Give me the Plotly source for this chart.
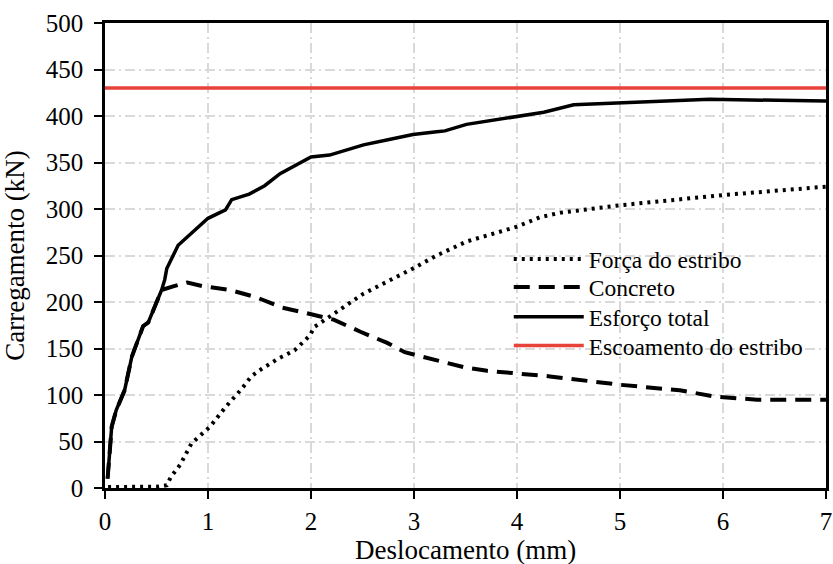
import plotly.graph_objects as go

# Força do estribo (dotted)
forca_x = [0.03, 0.1, 0.2, 0.3, 0.4, 0.52, 0.60, 0.64, 0.73, 0.84, 1.02, 1.17, 1.33, 1.42, 1.52, 1.68, 1.84, 1.99, 2.03,
           2.51, 2.99, 3.22, 3.51, 3.74, 4.0, 4.22, 4.42, 5.0, 6.0, 7.0]
forca_y = [1, 1, 1, 1, 1, 1.5, 3, 12, 25, 48, 66, 87, 107, 120, 128, 139, 148, 164, 173,
           209, 236, 250, 265, 272, 281, 291, 296, 304, 315, 324]

# Concreto (dashed)
concreto_x = [0.025, 0.065, 0.11, 0.19, 0.26, 0.37, 0.42, 0.55, 0.67, 0.80, 0.95, 1.21, 1.47, 1.72, 1.96, 2.22, 2.48,
              2.74, 2.91, 3.06, 3.25, 3.48, 3.71, 4.03, 4.32, 5.0, 5.58, 5.94, 6.33, 7.0]
concreto_y = [10, 66, 84, 105, 141, 174, 178, 213, 217, 221, 217, 213, 205, 194, 188, 181, 168,
              156, 146, 142, 137, 130, 126, 123, 120, 111, 105, 98, 95, 95]

# Esforço total (solid)
total_x = [0.025, 0.065, 0.11, 0.19, 0.26, 0.37, 0.42, 0.55, 0.58, 0.60, 0.71, 1.0, 1.17, 1.23, 1.4, 1.55, 1.7,
           2.0, 2.18, 2.51, 2.77, 2.99, 3.22, 3.3, 3.51, 4.0, 4.26, 4.55, 5.87, 7.0]
total_y = [10, 66, 84, 105, 141, 174, 178, 213, 224, 236, 261, 290, 299, 310, 316, 325, 338,
           356, 358, 369, 375, 380, 383, 384, 391, 400, 404, 412, 418, 416]

# Escoamento do estribo (red horizontal)
escoamento_x = [0, 7]
escoamento_y = [430, 430]

x_title = "Deslocamento (mm)"
y_title = "Carregamento (kN)"

FONT = "Liberation Serif, Times New Roman, serif"

fig = go.Figure()
fig.add_trace(go.Scatter(x=forca_x, y=forca_y, mode="lines", name="Força do estribo", legend="legend",
                         line=dict(color="black", width=4, dash="3px,5px")))
fig.add_trace(go.Scatter(x=concreto_x, y=concreto_y, mode="lines", name="Concreto", legend="legend2",
                         line=dict(color="black", width=4, dash="16px,9px")))
fig.add_trace(go.Scatter(x=total_x, y=total_y, mode="lines", name="Esforço total", legend="legend3",
                         line=dict(color="black", width=3.5)))
fig.add_trace(go.Scatter(x=escoamento_x, y=escoamento_y, mode="lines", name="Escoamento do estribo", legend="legend4",
                         line=dict(color="#E8433A", width=3.5)))

axis_common = dict(
    showline=True, linecolor="black", linewidth=2.5, mirror=True,
    ticks="outside", ticklen=8, tickwidth=2, tickcolor="black",
    showgrid=True, gridcolor="#d9d9d9", gridwidth=2, griddash="10px,4px,2px,4px",
    zeroline=False,
    tickfont=dict(family=FONT, size=25, color="black"),
)

fig.update_xaxes(range=[0, 7], dtick=1, tick0=0, ticklabelstandoff=1, **axis_common)
fig.update_yaxes(range=[0, 500], dtick=50, tick0=0,
                 title=dict(text=y_title, font=dict(family=FONT, size=27, color="black")),
                 ticklabelstandoff=6, **axis_common)

fig.add_annotation(text=x_title, xref="paper", yref="paper", x=0.5, y=-0.134,
                   xanchor="center", yanchor="middle", showarrow=False,
                   font=dict(family=FONT, size=27, color="black"))

leg_common = dict(x=0.56, xanchor="left", yanchor="middle", bgcolor="rgba(0,0,0,0)",
                  font=dict(family=FONT, size=23.5, color="black"), itemwidth=70)
fig.update_layout(
    width=833, height=564,
    margin=dict(l=105, r=7, t=23, b=76, autoexpand=False),
    paper_bgcolor="white", plot_bgcolor="white",
    font=dict(family=FONT, color="black"),
    legend=dict(y=0.492, **leg_common),
    legend2=dict(y=0.432, **leg_common),
    legend3=dict(y=0.368, **leg_common),
    legend4=dict(y=0.306, **leg_common),
    showlegend=True,
)

fig.write_html("out.html")
